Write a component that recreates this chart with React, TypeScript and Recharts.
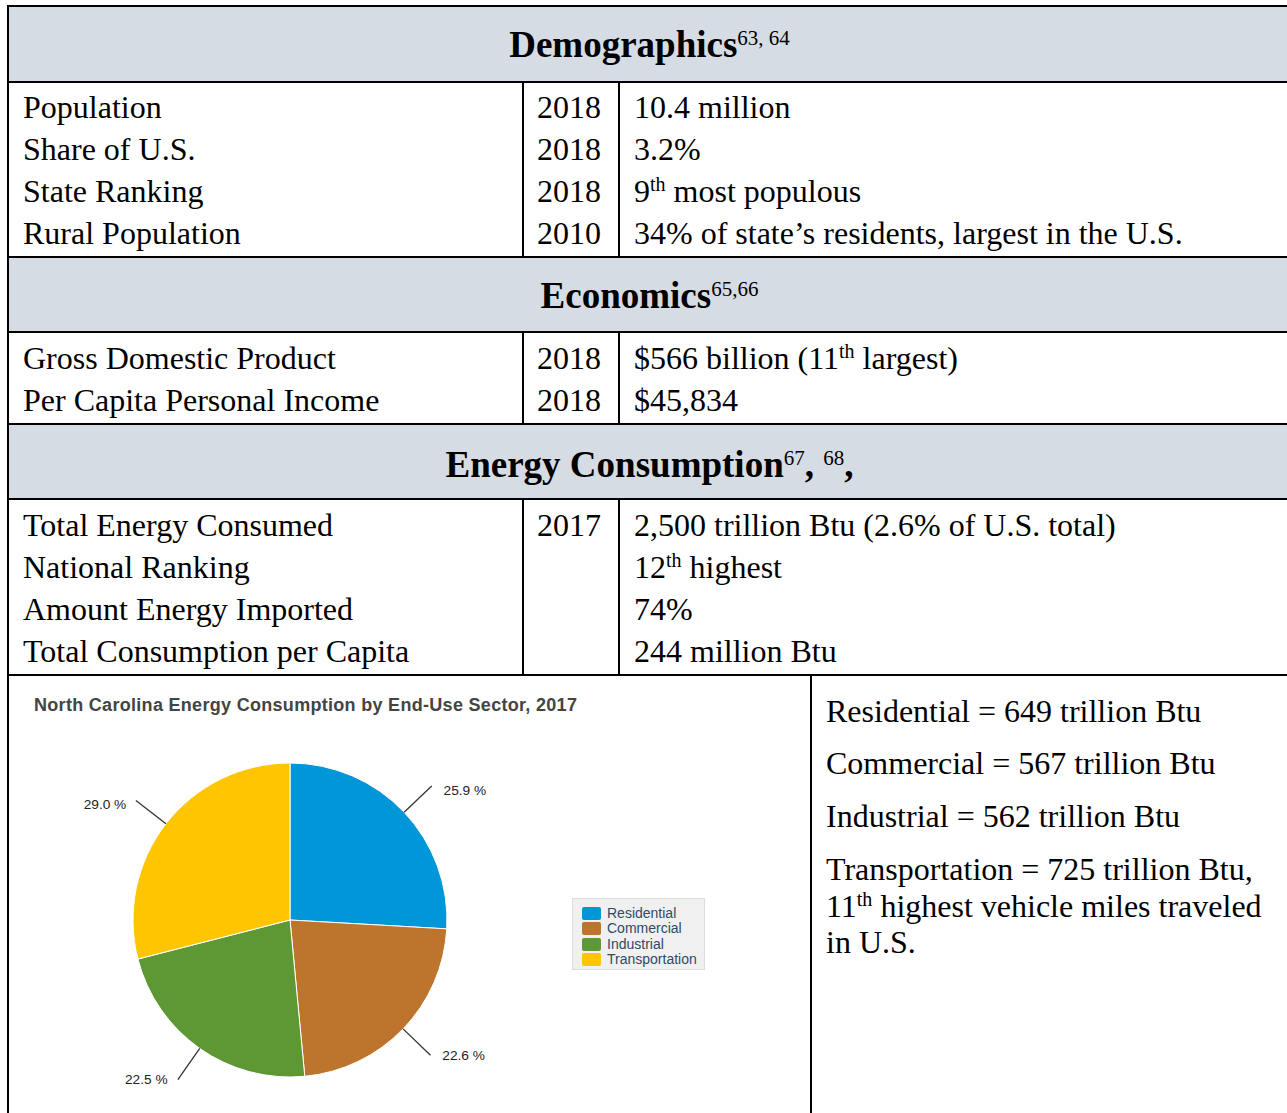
import React from 'react';
import { Cell, Legend, Pie, PieChart } from 'recharts';

// pie data: end-use sectors of NC energy consumption, 2017
const SECTORS = ['Residential', 'Commercial', 'Industrial', 'Transportation'];
const SHARE_PCT = [25.9, 22.6, 22.5, 29.0];
const SECTOR_BTU = [649, 567, 562, 725];
const SECTOR_COLORS = ['#0096d7', '#bd742c', '#5e9834', '#fec500'];

// table text, ^{..} marks a superscript
const DEMO_LABELS = ['Population', 'Share of U.S.', 'State Ranking', 'Rural Population'];
const DEMO_YEARS = ['2018', '2018', '2018', '2010'];
const DEMO_VALUES = ['10.4 million', '3.2%', '9^{th} most populous', '34% of state\u2019s residents, largest in the U.S.'];

const ECON_LABELS = ['Gross Domestic Product', 'Per Capita Personal Income'];
const ECON_YEARS = ['2018', '2018'];
const ECON_VALUES = ['$566 billion (11^{th} largest)', '$45,834'];

const ENERGY_LABELS = ['Total Energy Consumed', 'National Ranking', 'Amount Energy Imported', 'Total Consumption per Capita'];
const ENERGY_YEARS = ['2017', '', '', ''];
const ENERGY_VALUES = ['2,500 trillion Btu (2.6% of U.S. total)', '12^{th} highest', '74%', '244 million Btu'];

const SERIF = '"Liberation Serif", "Times New Roman", serif';
const SANS = '"Liberation Sans", Arial, sans-serif';
const HEADER_BG = '#d6dce4';
const RAD = Math.PI / 180;
const BODY_SIZE = 32;

const chartData = SECTORS.map((name, i) => ({ name, share: SHARE_PCT[i] }));

function withSup(text: string, size: number, raise: number, weight: any = 'normal') {
  const parts = text.split(/\^\{([^}]*)\}/);
  return parts.map((p, i) =>
    i % 2 === 1 ? (
      <span key={i} style={{ fontSize: size, position: 'relative', top: -raise, fontWeight: weight }}>
        {p}
      </span>
    ) : (
      <React.Fragment key={i}>{p}</React.Fragment>
    )
  );
}

function Header({ top, text }: { top: number; text: string }) {
  return (
    <div
      style={{
        position: 'absolute',
        left: 9,
        width: 1281,
        top,
        textAlign: 'center',
        fontSize: 37,
        fontWeight: 'bold',
        lineHeight: '37px',
        whiteSpace: 'nowrap',
      }}
    >
      {withSup(text, 21, 12)}
    </div>
  );
}

function Rows({ top, labels, years, values }: { top: number; labels: string[]; years: string[]; values: string[] }) {
  const cell = (left: number, i: number, content: React.ReactNode) => (
    <div
      key={left + '-' + i}
      style={{ position: 'absolute', left, top: top + i * 42, fontSize: BODY_SIZE, lineHeight: '42px', whiteSpace: 'nowrap' }}
    >
      {content}
    </div>
  );
  return (
    <>
      {labels.map((l, i) => cell(23, i, l))}
      {years.map((y, i) => cell(537, i, y))}
      {values.map((v, i) => cell(634, i, withSup(v, 20, 11)))}
    </>
  );
}

const renderLabel = (props: any) => {
  const { cx, cy, midAngle, outerRadius, value } = props;
  const cos = Math.cos(-midAngle * RAD);
  const sin = Math.sin(-midAngle * RAD);
  const sx = cx + outerRadius * cos;
  const sy = cy + outerRadius * sin;
  const ex = cx + (outerRadius + 38) * cos;
  const ey = cy + (outerRadius + 38) * sin;
  const tx = cx + (outerRadius + 35) * cos;
  const ty = cy + (outerRadius + 35) * sin;
  const right = cos >= 0;
  return (
    <g>
      <line x1={sx} y1={sy} x2={ex} y2={ey} stroke="#333" strokeWidth={1.3} />
      <text
        x={tx + (right ? 14 : -12)}
        y={ty + 2}
        textAnchor={right ? 'start' : 'end'}
        dominantBaseline="central"
        fontFamily={SANS}
        fontSize={13.7}
        fill="#222"
      >
        {Number(value).toFixed(1)} %
      </text>
    </g>
  );
};

function LegendBox() {
  return (
    <div
      style={{
        width: 133,
        height: 72,
        boxSizing: 'border-box',
        background: '#f0f0f0',
        border: '1px solid #dddddd',
        paddingTop: 7,
        fontFamily: SANS,
      }}
    >
      {SECTORS.map((name, i) => (
        <div key={name} style={{ height: 15.3, display: 'flex', alignItems: 'center', position: 'relative' }}>
          <span
            style={{ position: 'absolute', left: 9, width: 19, height: 13, borderRadius: 2, background: SECTOR_COLORS[i] }}
          />
          <span style={{ position: 'absolute', left: 34, fontSize: 14, lineHeight: '15.3px', color: '#2f4a68' }}>
            {name}
          </span>
        </div>
      ))}
    </div>
  );
}

const hLines = [5, 81, 256, 331, 423, 498, 674];
const vSegs: [number, number, number][] = [
  [7, 5, 1113],
  [522, 83, 256],
  [522, 333, 423],
  [522, 500, 674],
  [618, 83, 256],
  [618, 333, 423],
  [618, 500, 674],
  [810, 676, 1113],
];
const bands: [number, number][] = [
  [7, 81],
  [258, 331],
  [425, 498],
];

const rightLines = [
  { base: 722, text: `${SECTORS[0]} = ${SECTOR_BTU[0]} trillion Btu` },
  { base: 774, text: `${SECTORS[1]} = ${SECTOR_BTU[1]} trillion Btu` },
  { base: 827, text: `${SECTORS[2]} = ${SECTOR_BTU[2]} trillion Btu` },
  { base: 880, text: `${SECTORS[3]} = ${SECTOR_BTU[3]} trillion Btu,` },
  { base: 917, text: '11^{th} highest vehicle miles traveled' },
  { base: 953, text: 'in U.S.' },
];

export default function App() {
  return (
    <div
      style={{
        position: 'absolute',
        left: 0,
        top: 0,
        width: 1287,
        height: 1113,
        overflow: 'hidden',
        background: '#fff',
        fontFamily: SERIF,
        color: '#000',
      }}
    >
      {bands.map(([a, b], i) => (
        <div key={'b' + i} style={{ position: 'absolute', left: 9, width: 1290, top: a, height: b - a, background: HEADER_BG }} />
      ))}
      {hLines.map((y, i) => (
        <div key={'h' + i} style={{ position: 'absolute', left: 7, width: 1290, top: y, height: 2, background: '#000' }} />
      ))}
      {vSegs.map(([x, a, b], i) => (
        <div key={'v' + i} style={{ position: 'absolute', left: x, width: 2, top: a, height: b - a, background: '#000' }} />
      ))}

      <Header top={26} text={'Demographics^{63, 64}'} />
      <Rows top={86} labels={DEMO_LABELS} years={DEMO_YEARS} values={DEMO_VALUES} />

      <Header top={277} text={'Economics^{65,66}'} />
      <Rows top={337} labels={ECON_LABELS} years={ECON_YEARS} values={ECON_VALUES} />

      <Header top={446} text={'Energy Consumption^{67}, ^{68},'} />
      <Rows top={504} labels={ENERGY_LABELS} years={ENERGY_YEARS} values={ENERGY_VALUES} />

      {rightLines.map((l, i) => (
        <div
          key={'r' + i}
          style={{ position: 'absolute', left: 826, top: l.base - 32.3, fontSize: BODY_SIZE, lineHeight: '42px', whiteSpace: 'nowrap' }}
        >
          {withSup(l.text, 20, 11)}
        </div>
      ))}

      <div
        style={{
          position: 'absolute',
          left: 34,
          top: 696,
          fontFamily: SANS,
          fontWeight: 'bold',
          fontSize: 18,
          lineHeight: '18px',
          letterSpacing: 0.3,
          color: '#444',
          whiteSpace: 'nowrap',
          zIndex: 2,
        }}
      >
        North Carolina Energy Consumption by End-Use Sector, 2017
      </div>

      <div style={{ position: 'absolute', left: 9, top: 676 }}>
        <PieChart width={801} height={437} margin={{ top: 0, right: 0, bottom: 0, left: 0 }}>
          <Pie
            data={chartData}
            dataKey="share"
            nameKey="name"
            cx={281}
            cy={244}
            outerRadius={157}
            startAngle={90}
            endAngle={-270}
            stroke="#ffffff"
            strokeWidth={1}
            label={renderLabel}
            labelLine={false}
            isAnimationActive={false}
          >
            {chartData.map((d, i) => (
              <Cell key={d.name} fill={SECTOR_COLORS[i]} />
            ))}
          </Pie>
          <Legend
            content={() => <LegendBox />}
            wrapperStyle={{ left: 563, top: 222, width: 133, height: 72, bottom: 'auto' }}
          />
        </PieChart>
      </div>
    </div>
  );
}
